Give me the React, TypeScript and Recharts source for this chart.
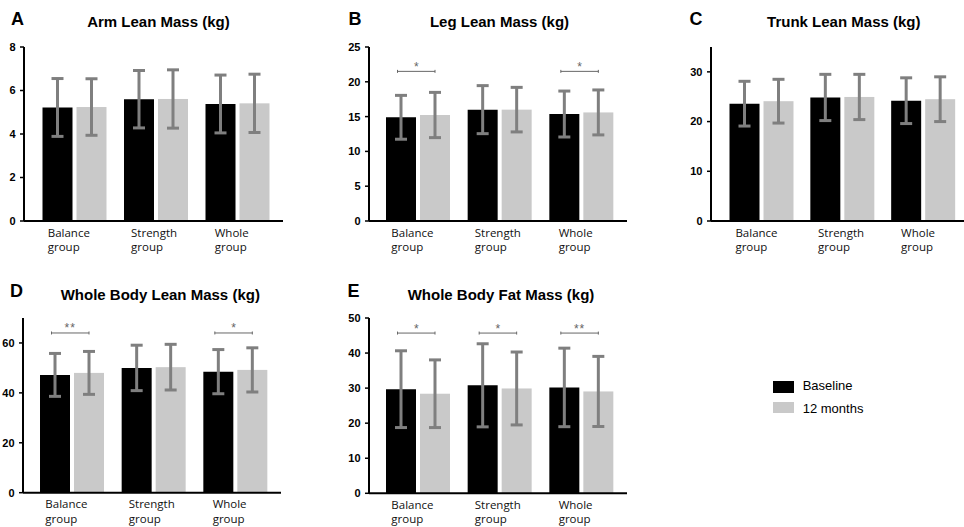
import React from 'react';
import { BarChart, Bar, XAxis, YAxis, ErrorBar } from 'recharts';

// ---------- data ----------
const categories = ['Balance group', 'Strength group', 'Whole group'];
const seriesNames = ['Baseline', '12 months'];

const armBaseline = [5.22, 5.6, 5.38];
const armBaselineSD = [1.33, 1.32, 1.33];
const armMonth12 = [5.24, 5.61, 5.41];
const armMonth12SD = [1.3, 1.34, 1.34];
const armSig = ['', '', ''];
const armTicks = [0, 2, 4, 6, 8];

const legBaseline = [14.9, 16.0, 15.37];
const legBaselineSD = [3.15, 3.45, 3.3];
const legMonth12 = [15.23, 16.0, 15.6];
const legMonth12SD = [3.25, 3.2, 3.23];
const legSig = ['*', '', '*'];
const legSigLevel = 21.5;
const legTicks = [0, 5, 10, 15, 20, 25];

const trunkBaseline = [23.6, 24.85, 24.2];
const trunkBaselineSD = [4.5, 4.65, 4.6];
const trunkMonth12 = [24.1, 24.95, 24.5];
const trunkMonth12SD = [4.4, 4.55, 4.5];
const trunkSig = ['', '', ''];
const trunkTicks = [0, 10, 20, 30];
const trunkMax = 35;

const wbLeanBaseline = [47.2, 50.0, 48.5];
const wbLeanBaselineSD = [8.6, 9.1, 8.85];
const wbLeanMonth12 = [48.0, 50.3, 49.2];
const wbLeanMonth12SD = [8.6, 9.15, 8.85];
const wbLeanSig = ['**', '', '*'];
const wbLeanSigLevel = 64;
const wbLeanTicks = [0, 20, 40, 60];
const wbLeanMax = 70;

const fatBaseline = [29.7, 30.8, 30.2];
const fatBaselineSD = [10.95, 11.85, 11.2];
const fatMonth12 = [28.4, 29.9, 29.05];
const fatMonth12SD = [9.65, 10.4, 10.0];
const fatSig = ['*', '*', '**'];
const fatSigLevel = 45.7;
const fatTicks = [0, 10, 20, 30, 40, 50];

const panelTitles = [
  'Arm Lean Mass (kg)',
  'Leg Lean Mass (kg)',
  'Trunk Lean Mass (kg)',
  'Whole Body Lean Mass (kg)',
  'Whole Body Fat Mass (kg)',
];
const panelLetters = ['A', 'B', 'C', 'D', 'E'];

// ---------- helpers ----------
function buildRows(b: number[], bsd: number[], m: number[], msd: number[], sig: string[], sigLevel: number) {
  return categories.map((c, i) => ({
    category: c,
    baseline: b[i],
    baselineSD: bsd[i],
    month12: m[i],
    month12SD: msd[i],
    sig: sig[i],
    sigLevel,
  }));
}

const BLACK = '#000000';
const GRAY = '#c9c9c9';
const ERR = '#7f7f7f';
const ARIAL = "'Liberation Sans', Arial, sans-serif";
const LABEL_FONT = "'Open Sans', 'Noto Sans', sans-serif";

const tickOffsets = [-26.5, -24.7, -22.5];

const CategoryTick = (props: any) => {
  const { x, y, payload, index } = props;
  const parts = String(payload.value).split(' ');
  const dx = tickOffsets[index] ?? -24;
  return (
    <text x={x + dx} y={y} fontFamily={LABEL_FONT} fontSize={11.5} fill="#111" textAnchor="start">
      <tspan x={x + dx} y={y + 15.5}>{parts[0]}</tspan>
      <tspan x={x + dx} y={y + 30}>{parts[1]}</tspan>
    </text>
  );
};

const SigBarShape = (props: any) => {
  const { x, y, width, height, fill, payload } = props;
  let bracket = null;
  if (payload && payload.sig && payload.month12 > 0 && height > 0) {
    const unit = height / payload.month12;
    const base = y + height;
    const by = base - payload.sigLevel * unit;
    const x1 = x - width * 0.75;
    const x2 = x + width / 2;
    bracket = (
      <g>
        <line x1={x1} x2={x2} y1={by} y2={by} stroke="#666" strokeWidth={1} />
        <line x1={x1} x2={x1} y1={by - 1.5} y2={by + 1.5} stroke="#666" strokeWidth={1} />
        <line x1={x2} x2={x2} y1={by - 1.5} y2={by + 1.5} stroke="#666" strokeWidth={1} />
        <text
          x={(x1 + x2) / 2}
          y={by - 0.5}
          textAnchor="middle"
          fontFamily={ARIAL}
          fontSize={12}
          letterSpacing={payload.sig.length > 1 ? 1 : 0}
          fill="#666"
        >
          {payload.sig}
        </text>
      </g>
    );
  }
  return (
    <g>
      <rect x={x} y={y} width={width} height={height} fill={fill} />
      {bracket}
    </g>
  );
};

type PanelProps = {
  data: any[];
  ticks: number[];
  max: number;
  axisX: number;
  plotTop: number;
  plotW: number;
  plotH: number;
  padLeft: number;
};

const Panel = ({ data, ticks, max, axisX, plotTop, plotW, plotH, padLeft }: PanelProps) => {
  const yW = 30;
  const mTop = 10;
  const xH = 40;
  return (
    <div style={{ position: 'absolute', left: axisX - yW, top: plotTop - mTop }}>
      <BarChart
        width={yW + plotW + 2}
        height={mTop + plotH + xH}
        data={data}
        margin={{ top: mTop, right: 2, left: 0, bottom: 0 }}
        barSize={30}
        barGap={4}
      >
        <XAxis
          dataKey="category"
          interval={0}
          tickLine={false}
          tickSize={0}
          tickMargin={0}
          height={xH}
          padding={{ left: padLeft, right: 5 }}
          axisLine={{ stroke: '#000', strokeWidth: 2 }}
          tick={<CategoryTick />}
        />
        <YAxis
          type="number"
          domain={[0, max]}
          ticks={ticks}
          width={yW}
          tickSize={4}
          tickMargin={4.5}
          axisLine={{ stroke: '#000', strokeWidth: 2 }}
          tickLine={{ stroke: '#000', strokeWidth: 1.5 }}
          tick={{ fontFamily: ARIAL, fontSize: 11, fontWeight: 'bold', fill: '#000' }}
        />
        <Bar dataKey="baseline" name={seriesNames[0]} fill={BLACK} isAnimationActive={false}>
          <ErrorBar dataKey="baselineSD" width={6} strokeWidth={3} stroke={ERR} direction="y" />
        </Bar>
        <Bar dataKey="month12" name={seriesNames[1]} fill={GRAY} isAnimationActive={false} shape={<SigBarShape />}>
          <ErrorBar dataKey="month12SD" width={6} strokeWidth={3} stroke={ERR} direction="y" />
        </Bar>
      </BarChart>
    </div>
  );
};

const Title = ({ text, cx, baseline }: { text: string; cx: number; baseline: number }) => (
  <div
    style={{
      position: 'absolute',
      left: cx - 160,
      width: 320,
      top: baseline - 13.6,
      textAlign: 'center',
      fontFamily: ARIAL,
      fontWeight: 'bold',
      fontSize: 15,
      lineHeight: 'normal',
      color: '#000',
      whiteSpace: 'nowrap',
    }}
  >
    {text}
  </div>
);

const Letter = ({ text, left, baseline }: { text: string; left: number; baseline: number }) => (
  <div
    style={{
      position: 'absolute',
      left,
      top: baseline - 16.3,
      fontFamily: ARIAL,
      fontWeight: 'bold',
      fontSize: 18,
      lineHeight: 'normal',
      color: '#000',
    }}
  >
    {text}
  </div>
);

export default function App() {
  const arm = buildRows(armBaseline, armBaselineSD, armMonth12, armMonth12SD, armSig, 0);
  const leg = buildRows(legBaseline, legBaselineSD, legMonth12, legMonth12SD, legSig, legSigLevel);
  const trunk = buildRows(trunkBaseline, trunkBaselineSD, trunkMonth12, trunkMonth12SD, trunkSig, 0);
  const wbLean = buildRows(wbLeanBaseline, wbLeanBaselineSD, wbLeanMonth12, wbLeanMonth12SD, wbLeanSig, wbLeanSigLevel);
  const fat = buildRows(fatBaseline, fatBaselineSD, fatMonth12, fatMonth12SD, fatSig, fatSigLevel);

  return (
    <div
      style={{
        position: 'absolute',
        left: 0,
        top: 0,
        width: 964,
        height: 527,
        overflow: 'hidden',
        background: '#fff',
      }}
    >
      <Letter text={panelLetters[0]} left={11} baseline={25.7} />
      <Letter text={panelLetters[1]} left={348.5} baseline={25.7} />
      <Letter text={panelLetters[2]} left={689.5} baseline={25.7} />
      <Letter text={panelLetters[3]} left={10} baseline={297.3} />
      <Letter text={panelLetters[4]} left={347.5} baseline={297.3} />

      <Title text={panelTitles[0]} cx={158.4} baseline={26.7} />
      <Title text={panelTitles[1]} cx={499.5} baseline={26.7} />
      <Title text={panelTitles[2]} cx={843.8} baseline={26.7} />
      <Title text={panelTitles[3]} cx={160.3} baseline={299.3} />
      <Title text={panelTitles[4]} cx={501} baseline={299.3} />

      <Panel data={arm} ticks={armTicks} max={8} axisX={24} plotTop={46.7} plotW={259} plotH={174} padLeft={9.5} />
      <Panel data={leg} ticks={legTicks} max={25} axisX={369} plotTop={46.7} plotW={258} plotH={174} padLeft={8} />
      <Panel data={trunk} ticks={trunkTicks} max={trunkMax} axisX={711} plotTop={46.7} plotW={258} plotH={174} padLeft={10.5} />
      <Panel data={wbLean} ticks={wbLeanTicks} max={wbLeanMax} axisX={23} plotTop={318.3} plotW={258} plotH={174.7} padLeft={8} />
      <Panel data={fat} ticks={fatTicks} max={50} axisX={368.7} plotTop={317.7} plotW={258} plotH={175.3} padLeft={8} />

      {/* legend */}
      <div style={{ position: 'absolute', left: 772.7, top: 381, width: 21, height: 11.5, background: BLACK }} />
      <div style={{ position: 'absolute', left: 772.7, top: 401.7, width: 21, height: 11.5, background: GRAY }} />
      <div
        style={{ position: 'absolute', left: 802.7, top: 378.4, fontFamily: ARIAL, fontSize: 13, lineHeight: 'normal', color: '#000' }}
      >
        {seriesNames[0]}
      </div>
      <div
        style={{ position: 'absolute', left: 802.7, top: 400.9, fontFamily: ARIAL, fontSize: 13, lineHeight: 'normal', color: '#000' }}
      >
        {seriesNames[1]}
      </div>
    </div>
  );
}
